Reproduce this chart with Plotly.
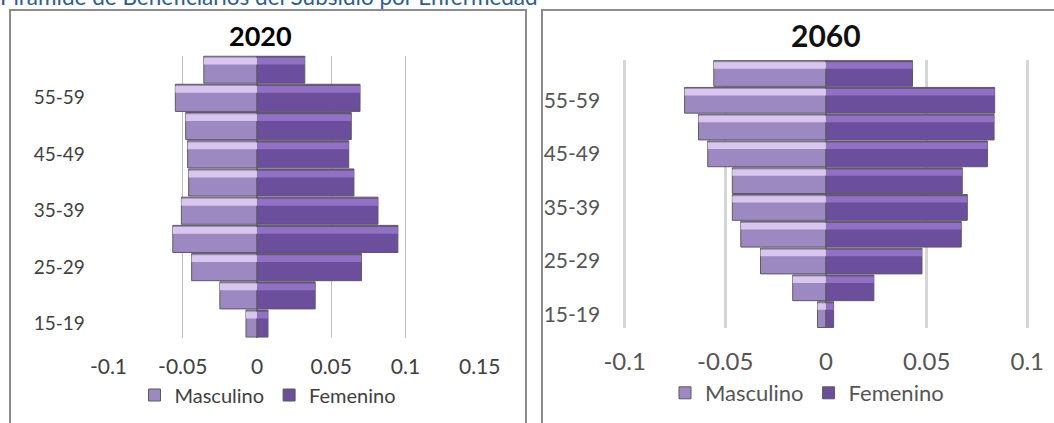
import plotly.graph_objects as go

# ---------------- data ----------------
age_groups = ["15-19", "20-24", "25-29", "30-34", "35-39",
              "40-44", "45-49", "50-54", "55-59", "60-64"]
age_ticks = ["15-19", "25-29", "35-39", "45-49", "55-59"]

male_2020 = [-0.0074, -0.0250, -0.0440, -0.0567, -0.0509,
             -0.0460, -0.0467, -0.0480, -0.0550, -0.0358]
female_2020 = [0.0074, 0.0392, 0.0704, 0.0949, 0.0815,
               0.0653, 0.0618, 0.0635, 0.0694, 0.0322]

male_2060 = [-0.0042, -0.0165, -0.0325, -0.0423, -0.0465,
             -0.0465, -0.0587, -0.0633, -0.0702, -0.0557]
female_2060 = [0.0038, 0.0238, 0.0477, 0.0672, 0.0702,
               0.0677, 0.0802, 0.0835, 0.0838, 0.0430]

x_ticks_2020 = [-0.1, -0.05, 0, 0.05, 0.1, 0.15]
x_ticktext_2020 = ["-0.1", "-0.05", "0", "0.05", "0.1", "0.15"]
x_ticks_2060 = [-0.1, -0.05, 0, 0.05, 0.1]
x_ticktext_2060 = ["-0.1", "-0.05", "0", "0.05", "0.1"]

series_names = ["Masculino", "Femenino"]
page_title = "Pirámide de Beneficiarios del Subsidio por Enfermedad"

# ---------------- layout helpers ----------------
W, H = 1054, 423
def px(x):
    return x / W
def py(y):
    return 1 - y / H

FONT = "Lato"
MALE = "#9D89C1"
MALE_HI = "#D8C6EE"
FEMALE = "#6B4E9C"
FEMALE_HI = "#9071C4"
OUTLINE = "#5B5B5B"

fig = go.Figure()

def add_panel(male, female, xa, ya, legend):
    for vals, name, col in [(male, series_names[0], MALE),
                            (female, series_names[1], FEMALE)]:
        fig.add_trace(go.Bar(
            y=age_groups, x=vals, orientation="h", name=name,
            marker=dict(color=col, line=dict(color=OUTLINE, width=1)),
            width=0.96, xaxis=xa, yaxis=ya, legend=legend,
            hoverinfo="skip"))
    for vals, col in [(male, MALE_HI), (female, FEMALE_HI)]:
        fig.add_trace(go.Bar(
            y=age_groups, x=vals, orientation="h", showlegend=False,
            marker=dict(color=col, line=dict(width=0)),
            width=0.24, offset=0.18, xaxis=xa, yaxis=ya, legend=legend,
            hoverinfo="skip"))

add_panel(male_2020, female_2020, "x", "y", "legend")
add_panel(male_2060, female_2060, "x2", "y2", "legend2")

tick_col = "#3F3F3F"
tick_col2 = "#555555"
eps = 0.0006

fig.update_layout(
    template="none",
    width=W, height=H,
    margin=dict(l=0, r=0, t=0, b=0, autoexpand=False),
    paper_bgcolor="white", plot_bgcolor="white",
    barmode="overlay",
    font=dict(family=FONT, color=tick_col),
    xaxis=dict(domain=[px(108.5 - eps * 1484), px(479.7 + eps * 1484)],
               range=[-0.1 - eps, 0.15 + eps],
               tickvals=x_ticks_2020, ticktext=x_ticktext_2020,
               showgrid=True, gridcolor="#BFBFBF", gridwidth=1,
               zeroline=True, zerolinecolor="#808080", zerolinewidth=1.5,
               showline=False, ticks="outside", ticklen=10,
               tickcolor="rgba(0,0,0,0)", tickfont=dict(size=21, color=tick_col),
               anchor="y", automargin=False, fixedrange=True),
    yaxis=dict(domain=[py(337.7), py(55.5)], type="category",
               categoryorder="array", categoryarray=age_groups,
               range=[-0.5, 9.5],
               tickvals=age_ticks, ticktext=age_ticks,
               showgrid=False, zeroline=False, showline=False,
               ticks="outside", ticklen=18, tickcolor="rgba(0,0,0,0)",
               tickfont=dict(size=19, color=tick_col), anchor="x",
               automargin=False, fixedrange=True),
    xaxis2=dict(domain=[px(624.6 - eps * 2000), px(1027.3 + eps * 2000)],
                range=[-0.1 - eps, 0.1 + eps],
                tickvals=x_ticks_2060, ticktext=x_ticktext_2060,
                showgrid=True, gridcolor="#D6D6D6", gridwidth=2.5,
                zeroline=True, zerolinecolor="#808080", zerolinewidth=1.5,
                showline=False, ticks="outside", ticklen=12,
                tickcolor="rgba(0,0,0,0)", tickfont=dict(size=24, color=tick_col2),
                anchor="y2", automargin=False, fixedrange=True),
    yaxis2=dict(domain=[py(328), py(60.1)], type="category",
                categoryorder="array", categoryarray=age_groups,
                range=[-0.5, 9.5],
                tickvals=age_ticks, ticktext=age_ticks,
                showgrid=False, zeroline=False, showline=False,
                ticks="outside", ticklen=18, tickcolor="rgba(0,0,0,0)",
                tickfont=dict(size=21, color=tick_col2), anchor="x2",
                automargin=False, fixedrange=True),
    legend=dict(orientation="h", x=px(268), y=py(395), xanchor="center",
                yanchor="middle", font=dict(size=20, color=tick_col),
                bgcolor="rgba(0,0,0,0)", itemwidth=30, tracegroupgap=0),
    legend2=dict(orientation="h", x=px(807), y=py(393), xanchor="center",
                 yanchor="middle", font=dict(size=22, color=tick_col2),
                 bgcolor="rgba(0,0,0,0)", itemwidth=30, tracegroupgap=0),
    shapes=[
        dict(type="rect", xref="paper", yref="paper",
             x0=px(10), x1=px(526), y0=py(445), y1=py(10),
             line=dict(color="#8C8C8C", width=2), layer="above"),
        dict(type="rect", xref="paper", yref="paper",
             x0=px(542), x1=px(1075), y0=py(445), y1=py(10),
             line=dict(color="#8C8C8C", width=2), layer="above"),
    ],
    annotations=[
        dict(text=page_title, xref="paper", yref="paper", x=px(-2), y=py(12),
             xanchor="left", yanchor="bottom", showarrow=False,
             font=dict(family=FONT, size=22.5, color="#2F5D8E")),
        dict(text="<b>2020</b>", xref="paper", yref="paper", x=px(260.7),
             y=py(35.5), xanchor="center", yanchor="middle", showarrow=False,
             font=dict(family=FONT, size=27, color="black")),
        dict(text="<b>2060</b>", xref="paper", yref="paper", x=px(826),
             y=py(35), xanchor="center", yanchor="middle", showarrow=False,
             font=dict(family=FONT, size=30, color="#111111")),
    ],
)

fig.write_html("out.html",
               config={"displayModeBar": False},
               post_script="document.body.style.margin='0px';")
